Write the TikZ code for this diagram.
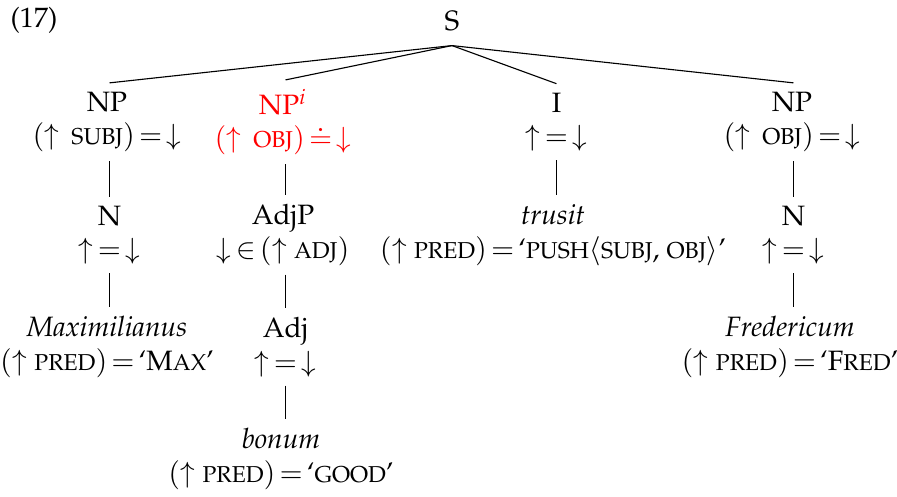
\documentclass[tikz,border=0pt]{standalone}
\usepackage[T1]{fontenc}
\usepackage{mathpazo}
\usepackage{tikz}

\newcommand{\up}{\mathord{\uparrow}}
\newcommand{\dn}{\mathord{\downarrow}}
\newcommand{\eqs}{\mskip2.5mu{=}\mskip2.5mu}
\newcommand{\deqs}{\mskip2.5mu{\doteq}\mskip2.5mu}
\newcommand{\fsc}[1]{\text{\fontsize{8.2}{9}\selectfont #1}}
\newcommand{\text}[1]{\mbox{#1}}

\begin{document}
\begin{tikzpicture}[x=0.357pt,y=-0.357pt,
        cat/.style={align=center,inner sep=3pt},
        hl/.style={text=red}]
        \useasboundingbox (0,0) rectangle (897,496);
        % example number and root
        \node (ex) at (34,20) {(17)};
        \node[inner sep=5pt] (s) at (452,21) {S};
        % first level
        \node[cat] (np1) at (107,122) {NP\\$(\up\ \,\fsc{SUBJ})\eqs\dn$};
        \node[cat,hl] (np2) at (283,122) {NP$^i$\\$(\up\ \,\fsc{OBJ})\deqs\dn$};
        \node[cat] (infl) at (556.5,122) {I\\$\up\eqs\dn$};
        \node[cat] (np3) at (792,122) {NP\\$(\up\ \,\fsc{OBJ})\eqs\dn$};
        % second level
        \node[cat] (n1) at (109.5,235) {N\\$\up\eqs\dn$};
        \node[cat] (adjp) at (283,235) {AdjP\\$\dn\mskip2.5mu{\in}\mskip2.5mu(\up\ \fsc{ADJ})$};
        \node[cat] (trusit) at (553,235) {\textit{trusit}\\$(\up\ \fsc{PRED})\eqs$`\fsc{PUSH}$\langle$\fsc{SUBJ}, \fsc{OBJ}$\rangle$'};
        \node[cat] (n2) at (793.5,235) {N\\$\up\eqs\dn$};
        % third level
        \node[cat] (max) at (107,347) {\textit{Maximilianus}\\$(\up\ \fsc{PRED})\eqs$`M\fsc{AX}'};
        \node[cat] (adj) at (285.5,347) {Adj\\$\up\eqs\dn$};
        \node[cat] (fred) at (790,347) {\textit{Fredericum}\\$(\up\ \fsc{PRED})\eqs$`F\fsc{RED}'};
        % fourth level
        \node[cat] (bonum) at (281,459) {\textit{bonum}\\$(\up\ \fsc{PRED})\eqs$`\fsc{GOOD}'};
        % branches
        \draw (s.south) -- (np1.north -| n1);
        \draw (s.south) -- (np2.north -| adj);
        \draw (s.south) -- (infl.north);
        \draw (s.south) -- (np3.north -| n2);
        \draw (np1.south -| n1) -- (n1);
        \draw (n1) -- (n1 |- max.north);
        \draw (np2.south -| adj) -- (adjp.north -| adj);
        \draw (adjp.south -| adj) -- (adj);
        \draw (adj) -- (adj |- bonum.north);
        \draw (infl) -- (infl |- trusit.north);
        \draw (np3.south -| n2) -- (n2);
        \draw (n2) -- (n2 |- fred.north);
    \end{tikzpicture}
\end{document}
